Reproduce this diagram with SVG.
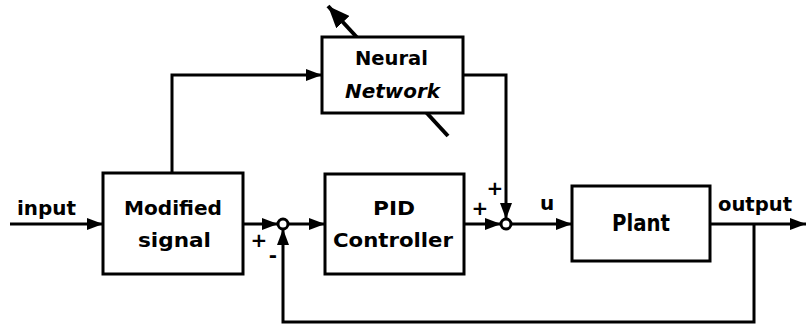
<svg xmlns="http://www.w3.org/2000/svg" width="807" height="325" viewBox="0 0 807 325">
<defs>
<style>
.ln{fill:none;stroke:#000;stroke-width:3;stroke-linejoin:miter}
.box{fill:#fff;stroke:#000;stroke-width:3}
.sum{fill:#fff;stroke:#000;stroke-width:3}
.t{font-family:"DejaVu Sans","Liberation Sans",Arial,sans-serif;font-weight:bold;font-size:20px;fill:#000}
.s{font-family:"DejaVu Sans","Liberation Sans",Arial,sans-serif;font-weight:bold;font-size:20px;fill:#000}
</style>
<marker id="ah" viewBox="0 0 16 12" refX="16" refY="6" markerWidth="16" markerHeight="12" markerUnits="userSpaceOnUse" orient="auto">
<path d="M0,0 L16,6 L0,12 z" fill="#000"/>
</marker>
<marker id="ah2" viewBox="0 0 22 18" refX="22" refY="9" markerWidth="22" markerHeight="18" markerUnits="userSpaceOnUse" orient="auto">
<path d="M0,0 L22,9 L0,18 z" fill="#000"/>
</marker>
</defs>
<rect width="807" height="325" fill="#fff"/>
<g id="connectors">
<path class="ln" d="M10,224 H103" marker-end="url(#ah)"/>
<path class="ln" d="M243,224 H278" marker-end="url(#ah)"/>
<path class="ln" d="M288,224 H325" marker-end="url(#ah)"/>
<path class="ln" d="M463,224 H501" marker-end="url(#ah)"/>
<path class="ln" d="M463,75 H506 V219" marker-end="url(#ah)"/>
<path class="ln" d="M511,224 H572" marker-end="url(#ah)"/>
<path class="ln" d="M710,224 H806" marker-end="url(#ah)"/>
<path class="ln" d="M754,224 V322 H283 V229" marker-end="url(#ah)"/>
<path class="ln" d="M172,173 V75 H322" marker-end="url(#ah)"/>
<path class="ln" style="stroke-width:4" d="M448,136 L328,6" marker-end="url(#ah2)"/>
</g>
<g id="input-label">
<text class="t" x="17" y="215" textLength="59" lengthAdjust="spacingAndGlyphs">input</text>
</g>
<g id="modified-signal">
<rect class="box" x="103" y="173" width="140" height="101"/>
<text class="t" x="124" y="215" textLength="98" lengthAdjust="spacingAndGlyphs">Modified</text>
<text class="t" x="138" y="247" textLength="73" lengthAdjust="spacingAndGlyphs">signal</text>
</g>
<g id="neural-network">
<rect class="box" x="322" y="37" width="141" height="76"/>
<text class="t" x="355" y="65" textLength="73" lengthAdjust="spacingAndGlyphs">Neural</text>
<text class="t" x="345" y="98" textLength="95" lengthAdjust="spacingAndGlyphs" font-style="italic">Network</text>
</g>
<g id="sum1">
<circle class="sum" cx="283" cy="224" r="5"/>
<text class="s" x="259" y="247" text-anchor="middle">+</text>
<text class="s" x="273" y="262" text-anchor="middle">-</text>
</g>
<g id="pid-controller">
<rect class="box" x="325" y="174" width="139" height="100"/>
<text class="t" x="373" y="215" textLength="42" lengthAdjust="spacingAndGlyphs">PID</text>
<text class="t" x="333" y="247" textLength="120" lengthAdjust="spacingAndGlyphs">Controller</text>
</g>
<g id="sum2">
<circle class="sum" cx="506" cy="224" r="5"/>
<text class="s" x="480" y="215" text-anchor="middle">+</text>
<text class="s" x="495" y="195" text-anchor="middle">+</text>
</g>
<g id="u-label">
<text class="t" x="547" y="210" text-anchor="middle">u</text>
</g>
<g id="plant">
<rect class="box" x="572" y="186" width="138" height="75"/>
<text class="t" style="font-size:23px" x="612" y="231" textLength="58" lengthAdjust="spacingAndGlyphs">Plant</text>
</g>
<g id="output-label">
<text class="t" x="718" y="211" textLength="74" lengthAdjust="spacingAndGlyphs">output</text>
</g>
</svg>
